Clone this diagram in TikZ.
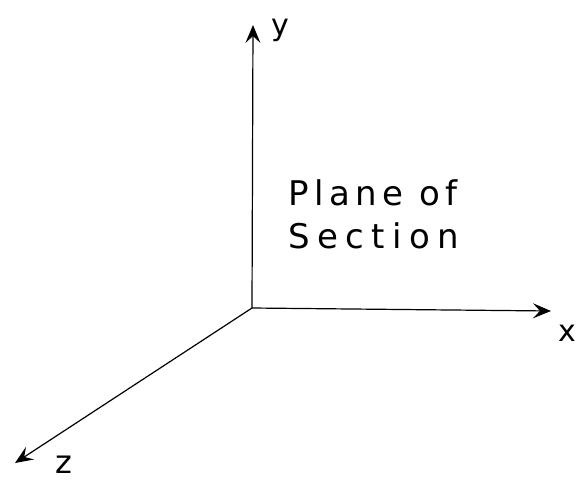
\documentclass[tikz,border=0pt]{standalone}
\usepackage{fontspec}
\setmainfont{DejaVu Sans}
\newfontfamily\handa[LetterSpace=16]{DejaVu Sans}
\newfontfamily\handb[LetterSpace=22]{DejaVu Sans}
\usetikzlibrary{arrows.meta}
\begin{document}
\begin{tikzpicture}[x=1pt,y=-1pt,
  axis/.style={line width=1.2pt,-{Stealth[length=18pt,width=15pt,inset=7pt]}},
  lbl/.style={inner sep=0pt,font=\fontsize{30}{30}\selectfont},
  txt/.style={inner sep=0pt,anchor=base west}]
\useasboundingbox (0,0) rectangle (578,482);
\coordinate (o) at (252,308);
\coordinate (ytip) at (253,25);
\coordinate (xtip) at (551,311);
\coordinate (ztip) at (15,463);
\draw[axis] (o) -- (ytip);
\draw[axis] (o) -- (xtip);
\draw[axis] (o) -- (ztip);
\node[lbl] (ylab) at (280,30) {y};
\node[lbl] (xlab) at (567,333) {x};
\node[lbl,font=\fontsize{32}{32}\selectfont] (zlab) at (64,465) {z};
\node[txt,font=\fontsize{34}{34}\handa] (plane) at (288,205) {Plane of};
\node[txt,font=\fontsize{34}{34}\handb] (section) at (288,248) {Section};
\end{tikzpicture}
\end{document}
